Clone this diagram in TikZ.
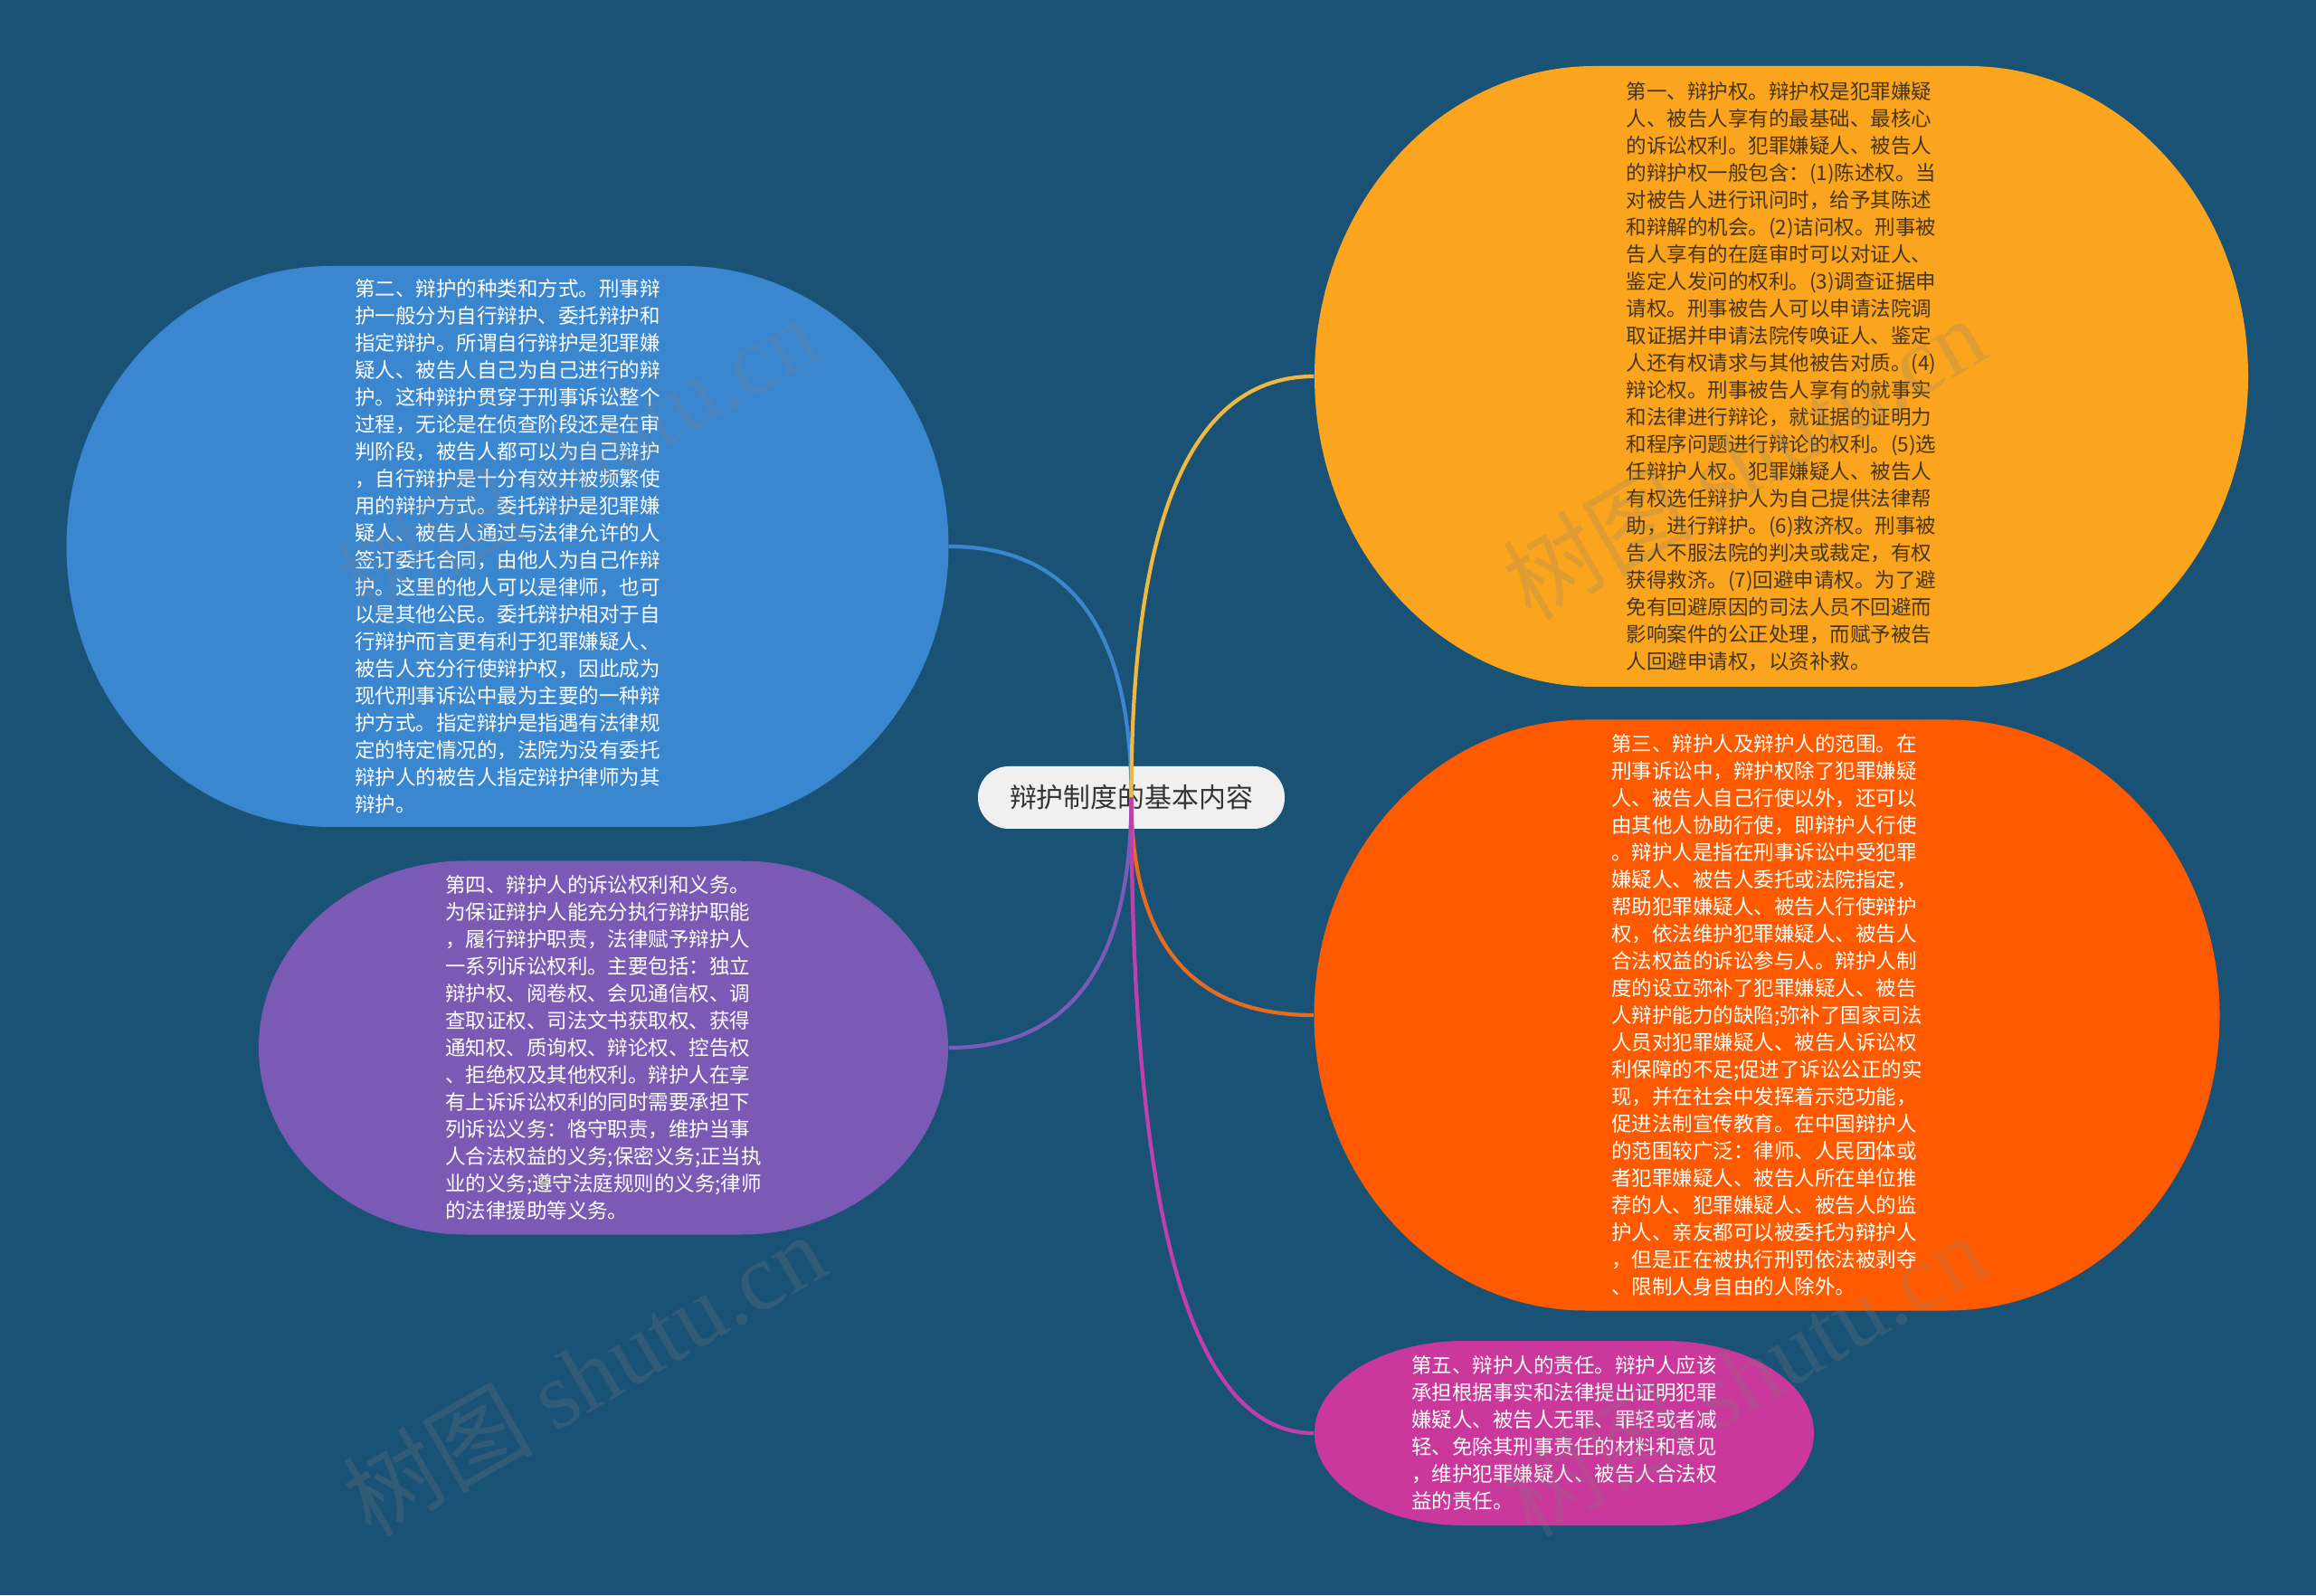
\documentclass[tikz,border=0pt]{standalone}
\usepackage{fontspec}
\setmainfont{Noto Sans CJK SC}
\newfontfamily\wmfont{Liberation Serif}
\usetikzlibrary{calc}

\definecolor{bgblue}{HTML}{1A5276}
\definecolor{cblue}{HTML}{3A87D0}
\definecolor{corange}{HTML}{FBA51E}
\definecolor{cred}{HTML}{FF5A00}
\definecolor{cpurple}{HTML}{7B5AB5}
\definecolor{cmagenta}{HTML}{C9389A}
\definecolor{rootfill}{HTML}{F0F0F0}
\definecolor{darktext}{HTML}{45351A}
\definecolor{lblue}{HTML}{3A86CF}
\definecolor{lyellow}{HTML}{F0B840}
\definecolor{lorange}{HTML}{E96C1E}
\definecolor{lpurple}{HTML}{7C5BB8}
\definecolor{lmagenta}{HTML}{C23EAD}

\tikzset{
  blob/.style={inner sep=0pt, align=left, text=white,
    font=\fontsize{6.4}{8.54}\selectfont,
    path picture={\fill[#1] let \p1=(path picture bounding box.south west),
      \p2=(path picture bounding box.north east),
      \n1={0.3*(\x2-\x1)}, \n2={0.5*(\y2-\y1)}, \n3={0.4*(\x2-\x1)} in
      (\x1,{\y1+\n2}) arc[start angle=180, end angle=90, x radius=\n1, y radius=\n2]
      -- ++(\n3,0) arc[start angle=90, end angle=-90, x radius=\n1, y radius=\n2]
      -- ++(-\n3,0) arc[start angle=270, end angle=180, x radius=\n1, y radius=\n2] -- cycle;}},
  rootbox/.style={fill=rootfill, rounded corners=0.34cm, minimum width=3.39cm,
    minimum height=0.69cm, inner sep=0pt, text=black!80,
    font=\fontsize{8.5}{10}\selectfont},
  link/.style={line width=1.2pt},
  wm/.style={rotate=30, text=gray, opacity=0.22, font=\fontsize{30}{32}\selectfont}
}

\begin{document}
\begin{tikzpicture}
\useasboundingbox (0,0) rectangle (25.6,17.63);
\fill[bgblue] (0,0) rectangle (25.6,17.63);

\node[rootbox] (root) at (12.505,8.815) {辩护制度的基本内容};

\node[blob=cblue, minimum width=9.75cm, minimum height=6.2cm] (kinds) at (5.61,11.59) {%
第二、辩护的种类和方式。刑事辩\\护一般分为自行辩护、委托辩护和\\指定辩护。所谓自行辩护是犯罪嫌\\疑人、被告人自己为自己进行的辩\\护。这种辩护贯穿于刑事诉讼整个\\过程，无论是在侦查阶段还是在审\\判阶段，被告人都可以为自己辩护\\，自行辩护是十分有效并被频繁使\\用的辩护方式。委托辩护是犯罪嫌\\疑人、被告人通过与法律允许的人\\签订委托合同，由他人为自己作辩\\护。这里的他人可以是律师，也可\\以是其他公民。委托辩护相对于自\\行辩护而言更有利于犯罪嫌疑人、\\被告人充分行使辩护权，因此成为\\现代刑事诉讼中最为主要的一种辩\\护方式。指定辩护是指遇有法律规\\定的特定情况的，法院为没有委托\\辩护人的被告人指定辩护律师为其\\辩护。};

\node[blob=corange, text=darktext, minimum width=10.32cm, minimum height=6.86cm] (rights) at (19.69,13.47) {%
第一、辩护权。辩护权是犯罪嫌疑\\人、被告人享有的最基础、最核心\\的诉讼权利。犯罪嫌疑人、被告人\\的辩护权一般包含：(1)陈述权。当\\对被告人进行讯问时，给予其陈述\\和辩解的机会。(2)诘问权。刑事被\\告人享有的在庭审时可以对证人、\\鉴定人发问的权利。(3)调查证据申\\请权。刑事被告人可以申请法院调\\取证据并申请法院传唤证人、鉴定\\人还有权请求与其他被告对质。(4)\\辩论权。刑事被告人享有的就事实\\和法律进行辩论，就证据的证明力\\和程序问题进行辩论的权利。(5)选\\任辩护人权。犯罪嫌疑人、被告人\\有权选任辩护人为自己提供法律帮\\助，进行辩护。(6)救济权。刑事被\\告人不服法院的判决或裁定，有权\\获得救济。(7)回避申请权。为了避\\免有回避原因的司法人员不回避而\\影响案件的公正处理，而赋予被告\\人回避申请权，以资补救。};

\node[blob=cred, minimum width=10.01cm, minimum height=6.53cm] (scope) at (19.53,6.41) {%
第三、辩护人及辩护人的范围。在\\刑事诉讼中，辩护权除了犯罪嫌疑\\人、被告人自己行使以外，还可以\\由其他人协助行使，即辩护人行使\\。辩护人是指在刑事诉讼中受犯罪\\嫌疑人、被告人委托或法院指定，\\帮助犯罪嫌疑人、被告人行使辩护\\权，依法维护犯罪嫌疑人、被告人\\合法权益的诉讼参与人。辩护人制\\度的设立弥补了犯罪嫌疑人、被告\\人辩护能力的缺陷;弥补了国家司法\\人员对犯罪嫌疑人、被告人诉讼权\\利保障的不足;促进了诉讼公正的实\\现，并在社会中发挥着示范功能，\\促进法制宣传教育。在中国辩护人\\的范围较广泛：律师、人民团体或\\者犯罪嫌疑人、被告人所在单位推\\荐的人、犯罪嫌疑人、被告人的监\\护人、亲友都可以被委托为辩护人\\，但是正在被执行刑罚依法被剥夺\\、限制人身自由的人除外。};

\node[blob=cpurple, minimum width=7.62cm, minimum height=4.13cm] (duties) at (6.67,6.05) {%
第四、辩护人的诉讼权利和义务。\\为保证辩护人能充分执行辩护职能\\，履行辩护职责，法律赋予辩护人\\一系列诉讼权利。主要包括：独立\\辩护权、阅卷权、会见通信权、调\\查取证权、司法文书获取权、获得\\通知权、质询权、辩论权、控告权\\、拒绝权及其他权利。辩护人在享\\有上诉诉讼权利的同时需要承担下\\列诉讼义务：恪守职责，维护当事\\人合法权益的义务;保密义务;正当执\\业的义务;遵守法庭规则的义务;律师\\的法律援助等义务。};

\node[blob=cmagenta, minimum width=5.52cm, minimum height=2.04cm] (liability) at (17.29,1.79) {%
第五、辩护人的责任。辩护人应该\\承担根据事实和法律提出证明犯罪\\嫌疑人、被告人无罪、罪轻或者减\\轻、免除其刑事责任的材料和意见\\，维护犯罪嫌疑人、被告人合法权\\益的责任。};

% links from the centre
\draw[link, lblue] (root.center) .. controls +(0,1.85) and +(1.35,0) .. (kinds.east);
\draw[link, lyellow] (root.center) .. controls +(0,3.10) and +(-1.35,0) .. (rights.west);
\draw[link, lorange] (root.center) .. controls +(0,-1.60) and +(-1.35,0) .. (scope.west);
\draw[link, lpurple] (root.center) .. controls +(0,-1.84) and +(1.35,0) .. (duties.east);
\draw[link, lmagenta] (root.center) .. controls +(0,-4.68) and +(-1.35,0) .. (liability.west);

% watermarks
\node[wm] (wm1) at (6.37,12.57) {树图 {\wmfont shutu.cn}};
\node[wm] (wm2) at (19.27,12.57) {树图 {\wmfont shutu.cn}};
\node[wm] (wm3) at (6.45,2.44) {树图 {\wmfont shutu.cn}};
\node[wm] (wm4) at (19.27,2.44) {树图 {\wmfont shutu.cn}};
\end{tikzpicture}
\end{document}
